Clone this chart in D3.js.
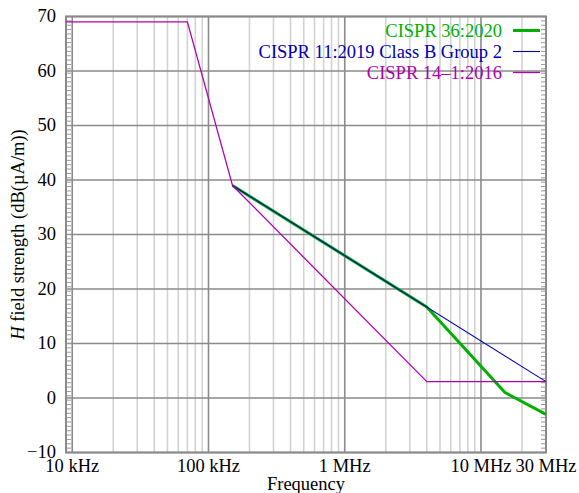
<!DOCTYPE html>
<html>
<head>
<meta charset="utf-8">
<script src="https://cdn.jsdelivr.net/npm/d3@7"></script>
<style>
  body { margin: 0; background: #fff; }
  text { font-family: "Liberation Serif", "DejaVu Serif", serif; }
</style>
</head>
<body>
<div id="container"></div>
<script>
// limit lines, frequency in Hz, level in dB(uA/m)
const cispr36Freq = [150e3, 4e6, 15e6, 30e6];
const cispr36Level = [39, 16.7, 1, -3];
const cispr11Freq = [150e3, 30e6];
const cispr11Level = [39, 3];
const cispr14Freq = [9e3, 70e3, 150e3, 4e6, 30e6];
const cispr14Level = [69, 69, 39, 3, 3];

const seriesNames = ["CISPR 36:2020", "CISPR 11:2019 Class B Group 2", "CISPR 14\u20131:2016"];
const seriesColors = ["#00b000", "#0000b0", "#b000b0"];

const xTickValues = [10e3, 100e3, 1e6, 10e6, 30e6];
const xTickLabels = ["10 kHz", "100 kHz", "1 MHz", "10 MHz", "30 MHz"];
const yTickValues = [-10, 0, 10, 20, 30, 40, 50, 60, 70];

const width = 579;
const height = 493;
const pLeft = 66, pRight = 546, pTop = 16.5, pBottom = 452.5;
const fontSize = 18.5;

const x = d3.scaleLog().domain([9e3, 30e6]).range([pLeft, pRight]);
const y = d3.scaleLinear().domain([-10, 70]).range([pBottom, pTop]);

const svg = d3.select("#container")
    .append("svg")
    .attr("width", width)
    .attr("height", height);

// minor vertical grid (2..9 of each decade)
const minor = [];
[1e4, 1e5, 1e6, 1e7].forEach(d => {
    for (let k = 2; k <= 9; k++) {
        const f = d * k;
        if (f < 30e6) minor.push(f);
    }
});
svg.append("g").selectAll("line")
    .data(minor)
    .join("line")
    .attr("x1", d => x(d)).attr("x2", d => x(d))
    .attr("y1", pTop).attr("y2", pBottom)
    .attr("stroke", "#d2d2d2")
    .attr("stroke-width", 1.6);

// major vertical grid
svg.append("g").selectAll("line")
    .data([1e4, 1e5, 1e6, 1e7])
    .join("line")
    .attr("x1", d => x(d)).attr("x2", d => x(d))
    .attr("y1", pTop).attr("y2", pBottom)
    .attr("stroke", "#8a8a8a")
    .attr("stroke-width", 1.6);

// horizontal grid
svg.append("g").selectAll("line")
    .data(yTickValues)
    .join("line")
    .attr("x1", pLeft).attr("x2", pRight)
    .attr("y1", d => y(d)).attr("y2", d => y(d))
    .attr("stroke", "#8a8a8a")
    .attr("stroke-width", 1.6);

// minor y ticks, left and right, pointing inwards
const yMinor = d3.range(-10, 70, 0.8);
svg.append("g").selectAll("line")
    .data(yMinor)
    .join("line")
    .attr("x1", pLeft).attr("x2", pLeft + 5)
    .attr("y1", d => y(d)).attr("y2", d => y(d))
    .attr("stroke", "#9a9a9a")
    .attr("stroke-width", 1);
svg.append("g").selectAll("line")
    .data(yMinor)
    .join("line")
    .attr("x1", pRight - 5).attr("x2", pRight)
    .attr("y1", d => y(d)).attr("y2", d => y(d))
    .attr("stroke", "#9a9a9a")
    .attr("stroke-width", 1);

// frame
svg.append("rect")
    .attr("x", pLeft).attr("y", pTop)
    .attr("width", pRight - pLeft).attr("height", pBottom - pTop)
    .attr("fill", "none")
    .attr("stroke", "#8a8a8a")
    .attr("stroke-width", 2);

// tick labels
svg.append("g").selectAll("text")
    .data(yTickValues)
    .join("text")
    .attr("x", 56)
    .attr("y", d => y(d))
    .attr("dy", "0.3em")
    .attr("text-anchor", "end")
    .attr("font-size", fontSize)
    .text(d => d < 0 ? "\u2212" + Math.abs(d) : d);

svg.append("g").selectAll("text")
    .data(xTickValues)
    .join("text")
    .attr("x", d => x(d))
    .attr("y", 471.5)
    .attr("text-anchor", "middle")
    .attr("font-size", fontSize)
    .text((d, i) => xTickLabels[i]);

// axis titles
svg.append("text")
    .attr("x", (pLeft + pRight) / 2)
    .attr("y", 489.5)
    .attr("text-anchor", "middle")
    .attr("font-size", fontSize)
    .text("Frequency");

const yTitle = svg.append("text")
    .attr("transform", `translate(24,${(pTop + pBottom) / 2}) rotate(-90)`)
    .attr("text-anchor", "middle")
    .attr("font-size", fontSize);
yTitle.append("tspan").attr("font-style", "italic").text("H");
yTitle.append("tspan").text(" field strength (dB(\u00b5A/m))");

// limit lines
const line = d3.line().x(d => x(d[0])).y(d => y(d[1]));
const series = [
    { f: cispr36Freq, v: cispr36Level, w: 3 },
    { f: cispr11Freq, v: cispr11Level, w: 1.1 },
    { f: cispr14Freq, v: cispr14Level, w: 1.3 }
];
series.forEach((s, i) => {
    svg.append("path")
        .datum(s.f.map((f, j) => [f, s.v[j]]))
        .attr("d", line)
        .attr("fill", "none")
        .attr("stroke", seriesColors[i])
        .attr("stroke-width", s.w)
        .attr("stroke-linejoin", "round");
});

// legend
const legendY = [30.5, 51.5, 72.5];
seriesNames.forEach((name, i) => {
    svg.append("text")
        .attr("x", 502)
        .attr("y", legendY[i])
        .attr("dy", "0.33em")
        .attr("text-anchor", "end")
        .attr("font-size", fontSize)
        .attr("fill", seriesColors[i])
        .text(name);
    svg.append("line")
        .attr("x1", 513).attr("x2", 540)
        .attr("y1", legendY[i]).attr("y2", legendY[i])
        .attr("stroke", seriesColors[i])
        .attr("stroke-width", series[i].w);
});
</script>
</body>
</html>
